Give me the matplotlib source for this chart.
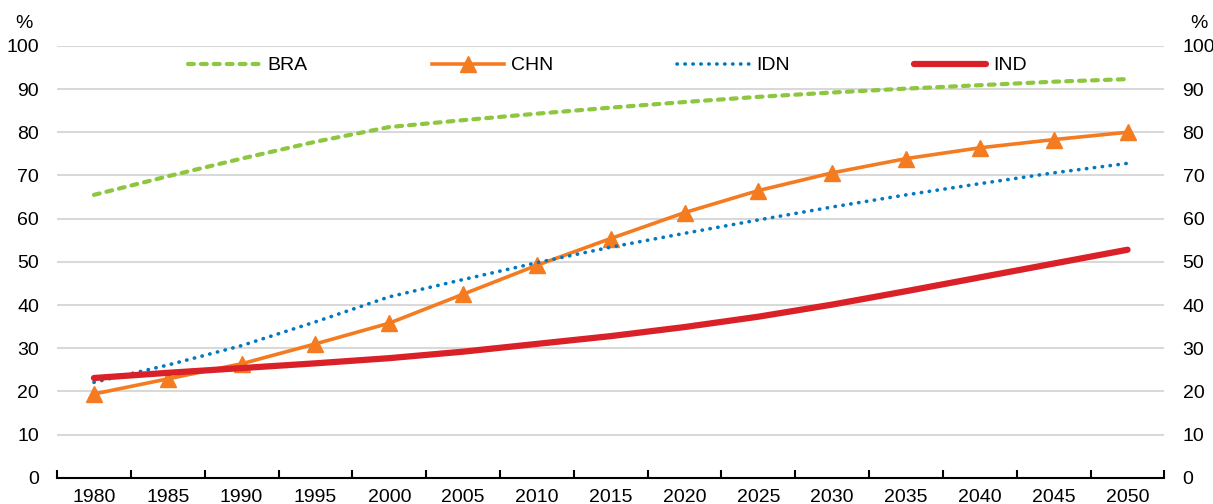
import matplotlib.pyplot as plt
import numpy as np

plt.rcParams['font.family'] = ['Liberation Sans', 'DejaVu Sans']

years = ['1980', '1985', '1990', '1995', '2000', '2005', '2010', '2015',
         '2020', '2025', '2030', '2035', '2040', '2045', '2050']
bra = [65.5, 69.8, 73.9, 77.8, 81.2, 82.8, 84.3, 85.7, 87.0, 88.2, 89.2, 90.1, 90.9, 91.7, 92.3]
chn = [19.4, 22.9, 26.4, 31.0, 35.8, 42.5, 49.2, 55.4, 61.4, 66.5, 70.6, 73.9, 76.4, 78.3, 80.0]
idn = [22.1, 26.1, 30.6, 36.1, 41.9, 45.9, 49.8, 53.4, 56.6, 59.7, 62.7, 65.5, 68.1, 70.6, 72.8]
ind = [23.1, 24.3, 25.4, 26.5, 27.7, 29.2, 31.0, 32.8, 34.9, 37.3, 40.1, 43.2, 46.4, 49.6, 52.8]
yticks = [0, 10, 20, 30, 40, 50, 60, 70, 80, 90, 100]

fs = 14
fig = plt.figure(figsize=(12.13, 5.04), dpi=100)
ax = fig.add_axes([0.047, 0.052, 0.913, 0.857])
x = np.arange(len(years))

ax.plot(x, bra, color='#8DC63F', lw=3, ls=(0, (1.4, 1.7)), dash_capstyle='round', label='BRA')
ax.plot(x, chn, color='#F47B20', lw=2.6, marker='^', ms=11, label='CHN')
ax.plot(x, idn, color='#0079C1', lw=2.6, ls=(0, (0.1, 2.1)), dash_capstyle='round', label='IDN')
ax.plot(x, ind, color='#DA2128', lw=4.5, solid_capstyle='round', label='IND')

ax.set_xlim(-0.5, len(years) - 0.5)
ax.set_ylim(0, 100)
ax.set_yticks(yticks)
ax.yaxis.grid(True, color='#D9D9D9', lw=1.5)
ax.set_axisbelow(True)
for s in ['left', 'right', 'top']:
    ax.spines[s].set_visible(False)
ax.spines['bottom'].set_linewidth(1.5)

ax.set_xticks(x)
ax.set_xticklabels(years, fontsize=fs)
ax.tick_params(axis='x', length=0, pad=8)
ax.set_xticks(np.arange(-0.5, len(years), 1), minor=True)
ax.tick_params(axis='x', which='minor', direction='in', length=6, width=1.5)
ax.tick_params(axis='y', length=0, labelsize=fs, pad=13)

ax2 = ax.twinx()
ax2.set_ylim(0, 100)
ax2.set_yticks(yticks)
ax2.tick_params(axis='y', length=0, labelsize=fs, pad=13)
for s in ['left', 'right', 'top', 'bottom']:
    ax2.spines[s].set_visible(False)

fig.text(0.020, 0.945, '%', fontsize=fs, ha='center')
fig.text(0.988, 0.945, '%', fontsize=fs, ha='center')

ax.legend(loc='upper center', bbox_to_anchor=(0.497, 1.015), ncol=4, frameon=False,
          fontsize=fs, handlelength=3.7, columnspacing=6.4, handletextpad=0.35)

fig.savefig('out.png', dpi=100)
